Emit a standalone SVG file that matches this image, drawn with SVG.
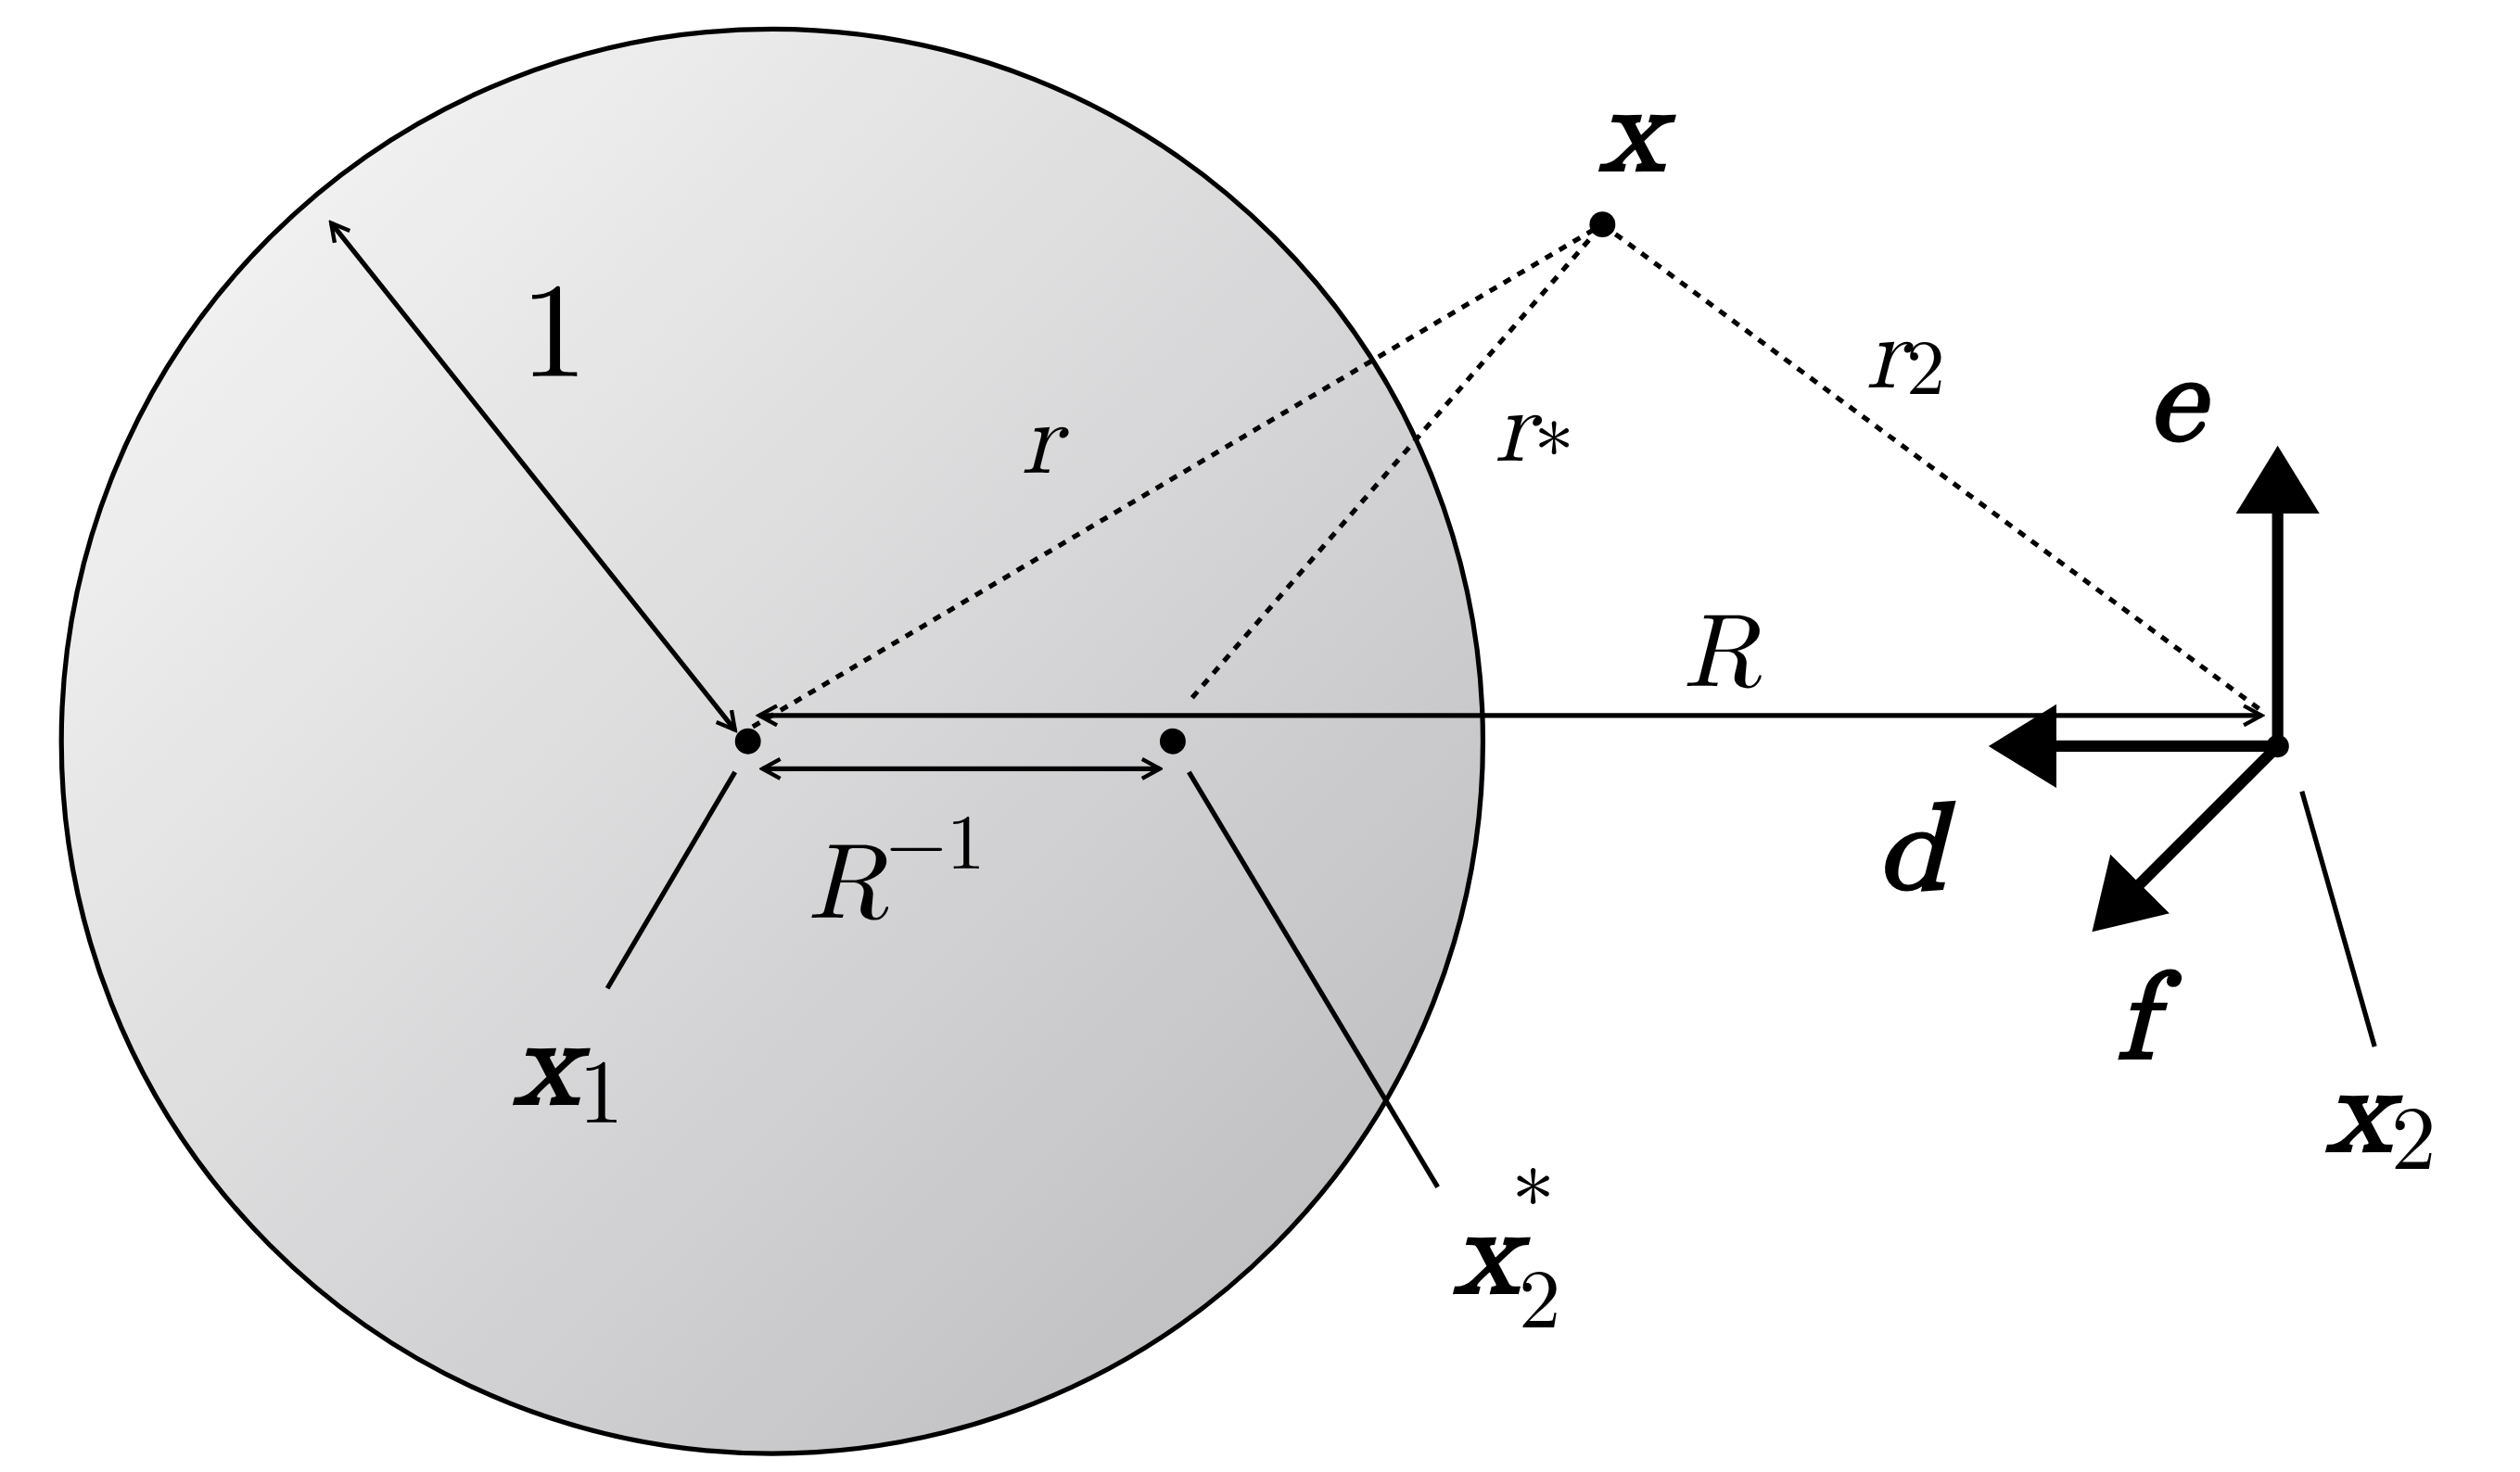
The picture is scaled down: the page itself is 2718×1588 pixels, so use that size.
<svg xmlns="http://www.w3.org/2000/svg" width="2718" height="1588" viewBox="0 0 2718 1588">
<style>
.t{stroke:#000;stroke-width:3;fill:none}
.dot{stroke:#000;stroke-width:3;fill:none;stroke-dasharray:5 5}
.k{stroke:#000;stroke-width:7;fill:none}
.m{font-family:"Latin Modern Math","DejaVu Serif","Liberation Serif",serif;font-style:italic;fill:#000}
.b{font-weight:bold}
</style>
<defs>
<linearGradient id="g" x1="0" y1="0" x2="1" y2="1">
<stop offset="0" stop-color="#fafafa"/><stop offset="1" stop-color="#b8b8bb"/>
</linearGradient>
<marker id="o" markerWidth="14" markerHeight="14" refX="12" refY="7" orient="auto-start-reverse" markerUnits="userSpaceOnUse"><path d="M1,1 L12,7 L1,13" fill="none" stroke="#000" stroke-width="2.5"/></marker>
<marker id="h" markerWidth="8" markerHeight="8" refX="4" refY="4" orient="auto" markerUnits="strokeWidth"><path d="M0,0.3 L6,4 L0,7.7 Z" fill="#000"/></marker>
</defs>
<rect width="2718" height="1588" fill="#fff"/>
<g transform="scale(1.7423)">
<g id="disk"><ellipse cx="478" cy="459" rx="440" ry="441" fill="url(#g)" stroke="#000" stroke-width="3"/></g>
<g id="connectors">
<line class="t" x1="205" y1="138" x2="455" y2="452" marker-start="url(#o)" marker-end="url(#o)"/>
<line class="t" x1="470" y1="443" x2="1400" y2="443" marker-start="url(#o)" marker-end="url(#o)"/>
<line class="t" x1="472" y1="476" x2="718" y2="476" marker-start="url(#o)" marker-end="url(#o)"/>
<line class="dot" x1="466" y1="450" x2="992" y2="139"/>
<line class="dot" x1="738" y1="432" x2="992" y2="139"/>
<line class="dot" x1="992" y1="139" x2="1400" y2="440"/>
<line class="k" x1="1410" y1="462" x2="1410" y2="290" marker-end="url(#h)"/>
<line class="k" x1="1410" y1="462" x2="1245" y2="462" marker-end="url(#h)"/>
<line class="k" x1="1410" y1="462" x2="1305" y2="567" marker-end="url(#h)"/>
<line class="t" x1="455" y1="478" x2="376" y2="612"/>
<line class="t" x1="736" y1="478" x2="890" y2="735"/>
<line class="t" x1="1425" y1="490" x2="1470" y2="648"/>
</g>
<g id="x1"><circle cx="463" cy="459" r="8"/><text class="m b" x="318" y="683" font-size="76">x<tspan font-size="56" font-weight="normal" font-style="normal" dy="12">1</tspan></text></g>
<g id="x2s"><circle cx="726" cy="459" r="8"/><text class="m b" x="900" y="800" font-size="76">x<tspan font-size="52" font-weight="normal" font-style="normal" dy="22">2</tspan><tspan font-size="52" font-weight="normal" font-style="normal" dx="-30" dy="-60">*</tspan></text></g>
<g id="x"><circle cx="992" cy="139" r="8"/><text class="m b" x="990" y="105" font-size="76">x</text></g>
<g id="x2"><circle cx="1410" cy="462" r="7"/><text class="m b" x="1440" y="712" font-size="76">x<tspan font-size="56" font-weight="normal" font-style="normal" dy="12">2</tspan></text></g>
<g id="labels">
<text x="322" y="233" font-size="84" font-family="Latin Modern Math,DejaVu Serif,Liberation Serif,serif">1</text>
<text class="m" x="632" y="293" font-size="64">r</text>
<text class="m" x="925" y="285" font-size="64">r<tspan font-style="normal" font-size="48" dy="12">*</tspan></text>
<text class="m" x="1155" y="240" font-size="64">r<tspan font-style="normal" font-size="48" dy="4">2</tspan></text>
<text class="m" x="1042" y="425" font-size="64">R</text>
<text class="m" x="500" y="568" font-size="66">R<tspan font-style="normal" font-size="48" dy="-30">−1</tspan></text>
<text class="m b" x="1330" y="272" font-size="76">e</text>
<text class="m b" x="1162" y="550" font-size="76">d</text>
<text class="m b" x="1310" y="655" font-size="76">f</text>
</g>
</g>
</svg>
